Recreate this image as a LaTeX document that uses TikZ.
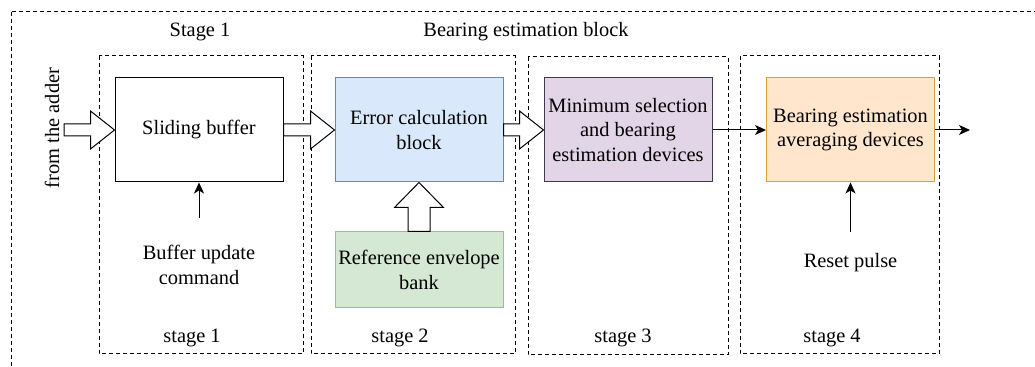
\documentclass[tikz,border=0pt]{standalone}
\usepackage{fontspec}
\setmainfont{Liberation Serif}
\usetikzlibrary{calc,arrows.meta}

\definecolor{errfill}{HTML}{DAE8FC}
\definecolor{errline}{HTML}{4A8FDB}
\definecolor{selfill}{HTML}{E1D5E7}
\definecolor{selline}{HTML}{3F3A4C}
\definecolor{avgfill}{HTML}{FFE6CC}
\definecolor{avgline}{HTML}{D6A040}
\definecolor{bankfill}{HTML}{D5E8D4}
\definecolor{bankline}{HTML}{97C47A}

\tikzset{
	box/.style={draw, minimum width=84pt, minimum height=52pt, inner sep=1pt, align=center, line width=0.5pt},
	stagebox/.style={draw, dash pattern=on 2pt off 1.5pt, line width=0.5pt},
	txt/.style={align=center, inner sep=0pt},
	sig/.style={-{Stealth[length=5.5pt,width=5pt,inset=1.5pt]}, line width=0.5pt},
	fat/.style={draw, fill=white, line width=0.5pt, line join=miter}
}

% wide open arrow, left to right
\newcommand{\fatright}[2]{\draw[fat] ($(#1)+(0,-6)$) -- ($(#2)+(-24,-6)$) -- ($(#2)+(-24,-19)$) -- (#2) -- ($(#2)+(-24,19)$) -- ($(#2)+(-24,6)$) -- ($(#1)+(0,6)$) -- cycle;}
% wide open arrow, bottom to top
\newcommand{\fatup}[2]{\draw[fat] ($(#1)+(-11,0)$) -- ($(#2)+(-11,25)$) -- ($(#2)+(-24.5,25)$) -- (#2) -- ($(#2)+(24.5,25)$) -- ($(#2)+(11,25)$) -- ($(#1)+(11,0)$) -- cycle;}

\begin{document}
\begin{tikzpicture}[x=0.5pt, y=-0.5pt, font=\fontsize{10.2}{12.3}\selectfont]
	\useasboundingbox (0,0) rectangle (1035,367);
	\clip (0,0) rectangle (1035,367);
	
	%frames
	\draw[stagebox] (11,12) rectangle (1060,390);
	\draw[stagebox] (99,56) rectangle (303,354);
	\draw[stagebox] (311,56) rectangle (515,354);
	\draw[stagebox] (528,57) rectangle (728,355);
	\draw[stagebox] (740,56) rectangle (939,354);
	
	%titles
	\node[txt] (title1) at (200,32) {Stage 1};
	\node[txt] (title2) at (526,32) {Bearing estimation block};
	\node[txt] (st1) at (192,338) {stage 1};
	\node[txt] (st2) at (400,338) {stage 2};
	\node[txt] (st3) at (623,338) {stage 3};
	\node[txt] (st4) at (832,338) {stage 4};
	
	%blocks
	\node[box] (buf) at (199,130) {Sliding buffer};
	\node[box, fill=errfill, draw=errline] (err) at (419,130) {Error calculation\\block};
	\node[box, fill=selfill, draw=selline] (sel) at (628,130) {Minimum selection\\and bearing\\estimation devices};
	\node[box, fill=avgfill, draw=avgline] (avg) at (850.5,130) {Bearing estimation\\averaging devices};
	\node[box, fill=bankfill, draw=bankline, minimum height=38pt] (bank) at (419,270) {Reference envelope\\bank};
	
	%inputs
	\node[txt, rotate=90] (adder) at (52,128) {from the adder};
	\coordinate (adderout) at (64,130);
	\node[txt] (upd) at (199,265) {Buffer update\\command};
	\coordinate (updout) at (199,218);
	\node[txt] (reset) at (850.5,263) {Reset pulse};
	\coordinate (resetout) at (850.5,232);
	\coordinate (out) at (970,130);
	
	%connectors
	\fatright{adderout}{buf.west}
	\fatright{buf.east}{err.west}
	\fatright{err.east}{sel.west}
	\fatup{bank.north}{err.south}
	\draw[sig] (updout) -- (buf.south);
	\draw[sig] (resetout) -- (avg.south);
	\draw[sig] (sel.east) -- (avg.west);
	\draw[sig] (avg.east) -- (out);
\end{tikzpicture}
\end{document}
